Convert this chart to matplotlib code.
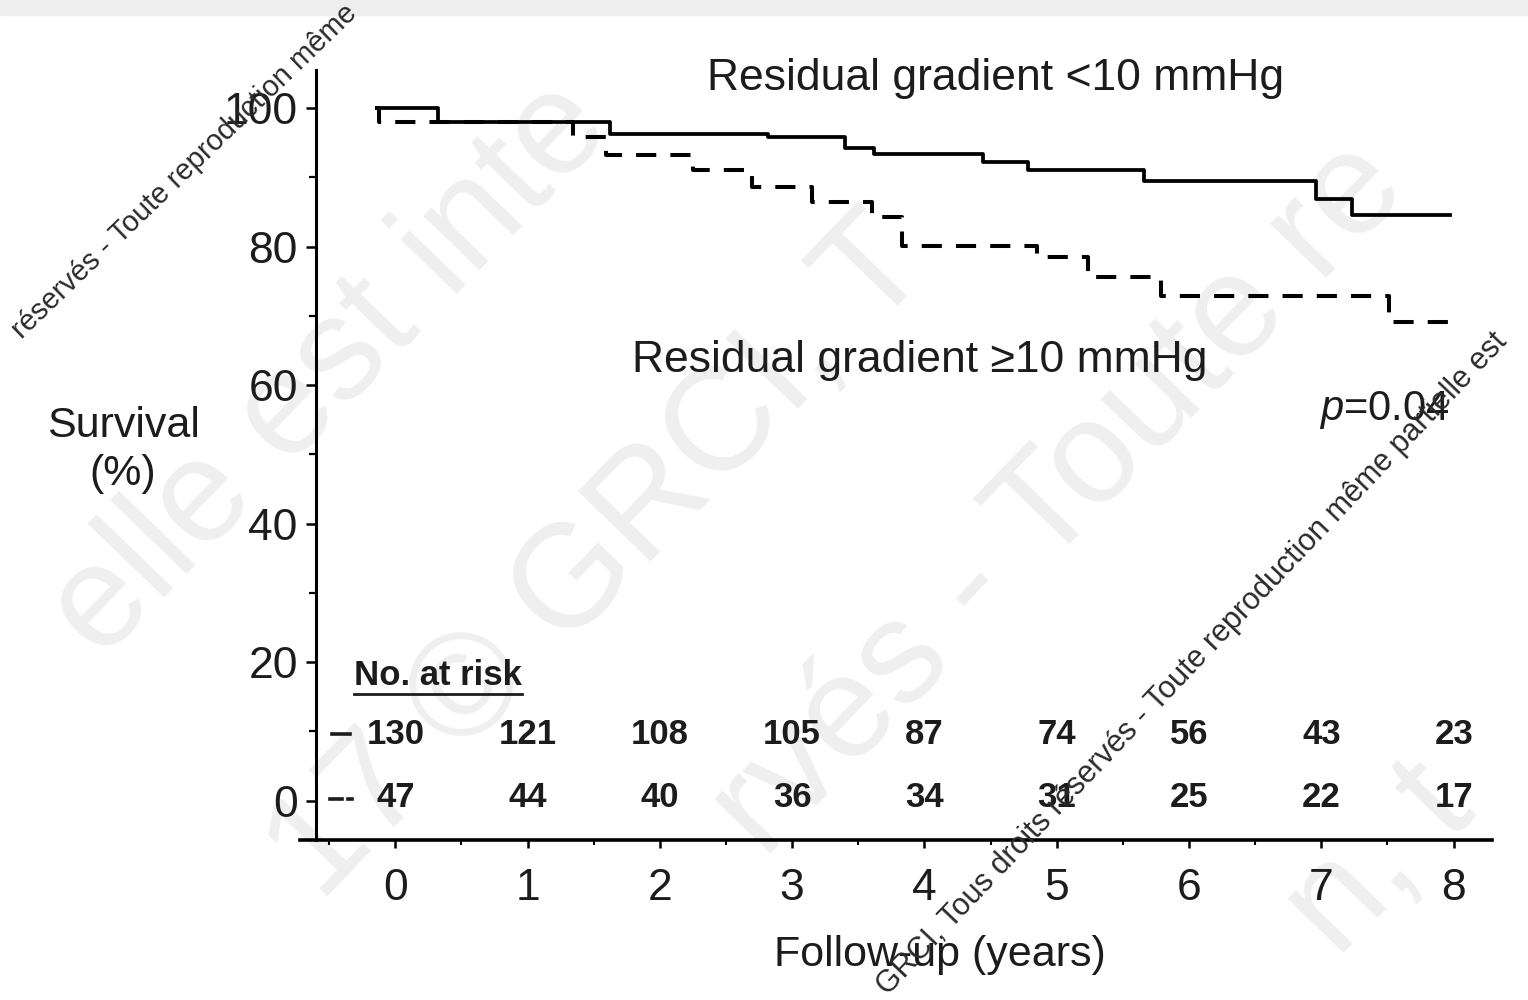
import matplotlib
matplotlib.use('Agg')
import matplotlib.pyplot as plt
from matplotlib.ticker import MultipleLocator
from matplotlib.patches import Rectangle

plt.rcParams['font.family'] = ['Liberation Sans', 'DejaVu Sans']
plt.rcParams['mathtext.fontset'] = 'custom'
plt.rcParams['mathtext.it'] = 'Liberation Sans:italic'
plt.rcParams['mathtext.rm'] = 'Liberation Sans'

# Kaplan-Meier steps (years, survival %)
low_t = [-0.13, 0.32, 1.62, 2.82, 3.40, 3.62, 4.44, 4.78, 5.66, 6.96, 7.23, 7.97]
low_s = [100, 98.0, 96.2, 95.8, 94.3, 93.3, 92.2, 91.1, 89.4, 86.9, 84.6, 84.6]
high_t = [-0.15, -0.12, 1.34, 1.59, 2.25, 2.70, 3.15, 3.60, 3.83, 4.85, 5.24, 5.79, 7.51, 7.97]
high_s = [100, 98.0, 95.8, 93.2, 91.1, 88.6, 86.5, 84.3, 80.1, 78.5, 75.6, 72.8, 69.1, 69.1]

years = [0, 1, 2, 3, 4, 5, 6, 7, 8]
risk_low = [130, 121, 108, 105, 87, 74, 56, 43, 23]
risk_high = [47, 44, 40, 36, 34, 31, 25, 22, 17]

ink = '#1c1c1c'
W, H = 1528, 1000

fig = plt.figure(figsize=(15.28, 10), dpi=100)
fig.patches.append(Rectangle((0, 1 - 15 / H), 1, 15 / H, transform=fig.transFigure,
                             color='#eeeeee', zorder=-5))

# faint background watermark (only the parts that show in the picture)
wm_big = [
    ("elle est inte", 330, 370),
    ("17 © GRCI, T", 600, 560),
    ("rvés - Toute re", 1060, 500),
    ("n, t", 1380, 860),
]
for s, px, py in wm_big:
    fig.text(px / W, 1 - py / H, s, rotation=46, rotation_mode='anchor',
             ha='center', va='center', fontsize=105, color='#efefef', zorder=-4)

ax = fig.add_axes([300 / W, 160 / H, 1192 / W, 770 / H])
ax.patch.set_alpha(0)

ax.step(low_t, low_s, where='post', color='black', lw=2.7)
ax.step(high_t, high_s, where='post', color='black', lw=2.9, dashes=(5, 3.5))

ax.set_xlim(-0.72, 8.29)
ax.set_ylim(-5.7, 105.5)
for sp in ['top', 'right']:
    ax.spines[sp].set_visible(False)
ax.spines['left'].set_position(('data', -0.6))
ax.spines['left'].set_linewidth(2.2)
ax.spines['bottom'].set_linewidth(2.6)

ax.set_xticks(years)
ax.xaxis.set_minor_locator(MultipleLocator(0.5))
ax.set_yticks(range(0, 101, 20))
ax.yaxis.set_minor_locator(MultipleLocator(10))
ax.tick_params(axis='x', which='major', length=6, width=1.8, pad=14,
               labelsize=32, labelcolor=ink)
ax.tick_params(axis='x', which='minor', length=3.5, width=1.5)
ax.tick_params(axis='y', which='major', length=7, width=1.8, pad=6,
               labelsize=32, labelcolor=ink)
ax.tick_params(axis='y', which='minor', length=5, width=1.6)

# curve labels
ax.text(2.36, 104.3, 'Residual gradient <10 mmHg', fontsize=32, color=ink,
        ha='left', va='center')
ax.text(1.79, 63.6, 'Residual gradient ≥10 mmHg', fontsize=32, color=ink,
        ha='left', va='center')
ax.text(7.97, 56.4, r'$\it{p}$=0.04', fontsize=30, color=ink, ha='right', va='center')

# numbers at risk
ax.text(-0.31, 18.1, 'No. at risk', fontsize=25, fontweight='bold', color=ink,
        ha='left', va='center')
ax.plot([-0.31, 0.955], [15.4, 15.4], color=ink, lw=2)
for x, a, b in zip(years, risk_low, risk_high):
    ax.text(x, 9.6, str(a), fontsize=25, fontweight='bold', color=ink,
            ha='center', va='center')
    ax.text(x, 0.4, str(b), fontsize=25, fontweight='bold', color=ink,
            ha='center', va='center')
ax.plot([-0.48, -0.34], [9.6, 9.6], color=ink, lw=2.6)
ax.plot([-0.49, -0.40], [0.2, 0.2], color=ink, lw=2.6)
ax.plot([-0.36, -0.33], [0.2, 0.2], color=ink, lw=2.6)

fig.text(123 / W, 1 - 450 / H, 'Survival\n(%)', fontsize=31, color=ink,
         ha='center', va='center', linespacing=1.25)
fig.text(940 / W, 1 - 955 / H, 'Follow-up (years)', fontsize=31, color=ink,
         ha='center', va='center')

# small dark watermark lines
fig.text(888 / W, 1 - 996 / H,
         'GRCI, Tous droits réservés - Toute reproduction même partielle est',
         rotation=46.5, rotation_mode='anchor', ha='left', va='baseline',
         fontsize=22, color='#2a2a2a', zorder=6)
fig.text(22 / W, 1 - 340 / H, 'réservés - Toute reproduction même',
         rotation=44, rotation_mode='anchor', ha='left', va='baseline',
         fontsize=21, color='#2a2a2a', zorder=6)

fig.savefig('out.png', dpi=100)
